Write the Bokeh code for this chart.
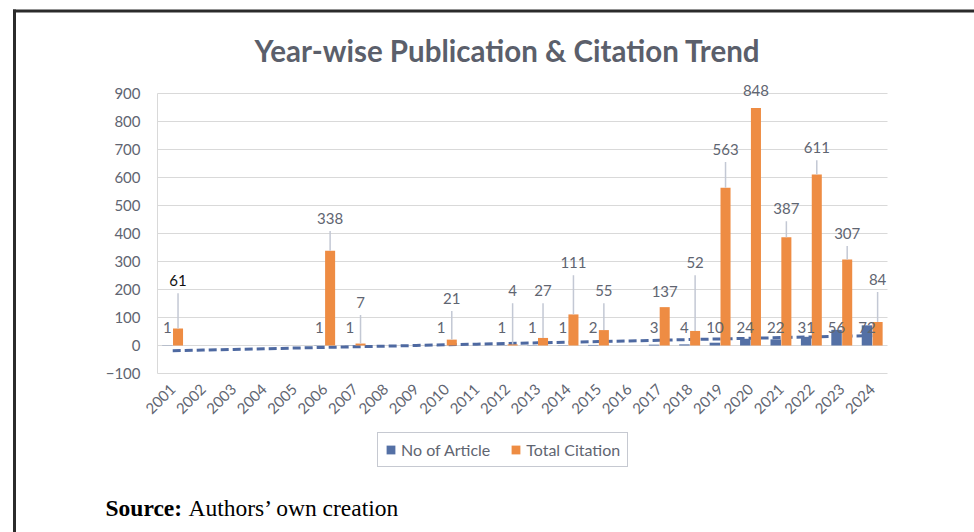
import numpy as np
from bokeh.plotting import figure
from bokeh.models import (ColumnDataSource, Range1d, FixedTicker, Legend,
                          LegendItem, Label, BoxAnnotation)
from bokeh.transform import dodge
from bokeh.core.properties import value
from bokeh.embed import file_html
from bokeh.resources import INLINE

# ---------------- data ----------------
years = [str(y) for y in range(2001, 2025)]
articles = [1, None, None, None, None, 1, 1, None, None, 1, None, 1, 1, 1, 2, None,
            3, 4, 10, 24, 22, 31, 56, 72]
citations = [61, None, None, None, None, 338, 7, None, None, 21, None, 4, 27, 111, 55, None,
             137, 52, 563, 848, 387, 611, 307, 84]
y_ticks = [-100, 0, 100, 200, 300, 400, 500, 600, 700, 800, 900]
series_names = ["No of Article", "Total Citation"]
title_text = "Year-wise Publication & Citation Trend"

# ---------------- layout (label placement, Excel-style dragged labels) ----------------
cite_label_lift = [171, None, None, None, None, 116, 147, None, None, 147, None, 192, 169, 185, 141, None,
                   56, 244, 137, 63, 102, 96, 93, 152]
article_label_level = 65
leader_gap = 45

BLUE = "#5470A5"
ORANGE = "#EE8C43"
GREY_TXT = "#5f6571"
FONT = "Lato"

W, H = 974, 532
# plot-area placement inside the canvas (pixels)
PA_L, PA_R, PA_T, PA_B = 157, 887, 93, 373

n = len(years)
pos = list(range(1, n + 1))              # category centres
xu = (PA_R - PA_L) / n                    # px per category
yu = (PA_B - PA_T) / (y_ticks[-1] - y_ticks[0])   # px per data unit
x_start = 0.5 - PA_L / xu
x_end = n + 0.5 + (W - PA_R) / xu
y_start = y_ticks[0] - (H - PA_B) / yu
y_end = y_ticks[-1] + PA_T / yu

nan = float("nan")
art = [nan if v is None else v for v in articles]
cit = [nan if v is None else v for v in citations]

# linear trendline of article counts (Excel: fitted on non-blank points)
idx = np.array(pos, float)
mask = np.array([a is not None for a in articles])
slope, intercept = np.polyfit(idx[mask], np.array([a for a in articles if a is not None], float), 1)
trend = (slope * idx + intercept).tolist()

src = ColumnDataSource(dict(x=pos, year=years, art=art, cit=cit, trend=trend))

# citation labels + leader lines
cl_x, cl_y, cl_t, cl_c, ld_x, ld_y0, ld_y1 = [], [], [], [], [], [], []
for xp, y, c, lift in zip(pos, years, citations, cite_label_lift):
    if c is None:
        continue
    ly = c + lift
    cl_x.append(xp); cl_y.append(ly); cl_t.append(str(c))
    cl_c.append("#111111" if y == "2001" else GREY_TXT)
    top = ly - leader_gap
    if top - c > 20:
        ld_x.append(xp); ld_y0.append(c); ld_y1.append(top)
cl_src = ColumnDataSource(dict(x=cl_x, y=cl_y, t=cl_t, c=cl_c))
ld_src = ColumnDataSource(dict(x=ld_x, y0=ld_y0, y1=ld_y1))

al_x, al_y, al_t = [], [], []
for xp, a in zip(pos, articles):
    if a is None:
        continue
    al_x.append(xp); al_y.append(article_label_level); al_t.append(str(a))
al_src = ColumnDataSource(dict(x=al_x, y=al_y, t=al_t))

# ---------------- figure ----------------
p = figure(width=W, height=H, x_range=Range1d(x_start, x_end), y_range=Range1d(y_start, y_end),
           output_backend="svg", toolbar_location=None, title=None,
           min_border=0, min_border_left=0, min_border_right=0, min_border_top=0, min_border_bottom=0)
p.outline_line_color = None
p.background_fill_color = "white"
p.border_fill_color = "white"
p.grid.visible = False

# horizontal gridlines across the category span
p.segment(x0=0.5, x1=n + 0.5, y0=y_ticks, y1=y_ticks, line_color="#d9d9d9", line_width=1)

# y axis (fixed at left edge of the plot area)
p.yaxis.fixed_location = 0.5
p.yaxis.ticker = FixedTicker(ticks=y_ticks)
p.yaxis.major_label_overrides = {-100: "\u2212100"}
p.yaxis.bounds = (y_ticks[0], y_ticks[-1])
p.yaxis.axis_line_color = "#d9d9d9"
p.yaxis.major_tick_line_color = None
p.yaxis.minor_tick_line_color = None
p.yaxis.major_tick_out = 0
p.yaxis.major_tick_in = 0
p.yaxis.major_label_standoff = 17
p.yaxis.major_label_text_font = FONT
p.yaxis.major_label_text_font_size = "15px"
p.yaxis.major_label_text_color = GREY_TXT

# x axis (category labels, at the bottom of the plot area)
p.xaxis.fixed_location = y_ticks[0]
p.xaxis.ticker = FixedTicker(ticks=pos)
p.xaxis.major_label_overrides = {xp: y for xp, y in zip(pos, years)}
p.xaxis.axis_line_color = None
p.xaxis.major_tick_line_color = None
p.xaxis.minor_tick_line_color = None
p.xaxis.major_tick_out = 0
p.xaxis.major_tick_in = 0
p.xaxis.major_label_orientation = np.pi / 4
p.xaxis.major_label_standoff = 13
p.xaxis.major_label_text_font = FONT
p.xaxis.major_label_text_font_size = "15px"
p.xaxis.major_label_text_color = GREY_TXT

# trendline
p.line(x="x", y="trend", source=src, line_color="#4E69A1", line_width=3, line_dash="8 4")

# bars
r_art = p.vbar(x=dodge("x", -0.175), top="art", bottom=0, width=0.345,
               source=src, fill_color=BLUE, line_color=None)
r_cit = p.vbar(x=dodge("x", 0.175), top="cit", bottom=0, width=0.33,
               source=src, fill_color=ORANGE, line_color=None)

# leaders
p.segment(x0=dodge("x", 0.175), x1=dodge("x", 0.175),
          y0="y0", y1="y1", source=ld_src, line_color="#c3c8d4", line_width=1.5)

# labels
p.text(x=dodge("x", 0.175), y="y", text="t", source=cl_src,
       text_color="c", text_font=value(FONT), text_font_size="15px",
       text_align="center", text_baseline="middle")
p.text(x=dodge("x", -0.175), y="y", text="t", source=al_src,
       text_color=GREY_TXT, text_font=value(FONT), text_font_size="15px",
       text_align="center", text_baseline="middle")

# legend
legend = Legend(items=[LegendItem(label=series_names[0], renderers=[r_art]),
                       LegendItem(label=series_names[1], renderers=[r_cit])],
                orientation="horizontal", location=(377, H - 467))
legend.border_line_color = "#8e93a3"
legend.border_line_width = 1
legend.background_fill_color = "white"
legend.background_fill_alpha = 1
legend.label_text_font = FONT
legend.label_text_font_size = "16px"
legend.label_text_color = GREY_TXT
legend.glyph_width = 11
legend.glyph_height = 11
legend.label_standoff = 5
legend.spacing = 20
legend.padding = 7
legend.margin = 0
legend.label_height = 14
p.add_layout(legend, "center")

# title
p.add_layout(Label(x=507, y=H - 50, x_units="screen", y_units="screen", text=title_text,
                   text_font=FONT, text_font_style="bold", text_font_size="29.5px",
                   text_color="#5b5f6b", text_align="center", text_baseline="middle"))

# source note
p.add_layout(Label(x=105, y=H - 507, x_units="screen", y_units="screen", text="Source:",
                   text_font="Liberation Serif", text_font_style="bold", text_font_size="23.5px",
                   text_color="black", text_align="left", text_baseline="alphabetic"))
p.add_layout(Label(x=188, y=H - 507, x_units="screen", y_units="screen", text="Authors\u2019 own creation",
                   text_font="Liberation Serif", text_font_size="23.5px",
                   text_color="black", text_align="left", text_baseline="alphabetic"))

# page frame lines (left and top)
p.add_layout(BoxAnnotation(left=12.5, right=15.5, top=H - 9, bottom=-10,
                           left_units="screen", right_units="screen", top_units="screen", bottom_units="screen",
                           fill_color="#2b2b2b", fill_alpha=1, line_color=None))
p.add_layout(BoxAnnotation(left=12.5, right=W + 10, top=H - 9, bottom=H - 12,
                           left_units="screen", right_units="screen", top_units="screen", bottom_units="screen",
                           fill_color="#2b2b2b", fill_alpha=1, line_color=None))

open("out.html", "w").write(file_html(p, INLINE))
